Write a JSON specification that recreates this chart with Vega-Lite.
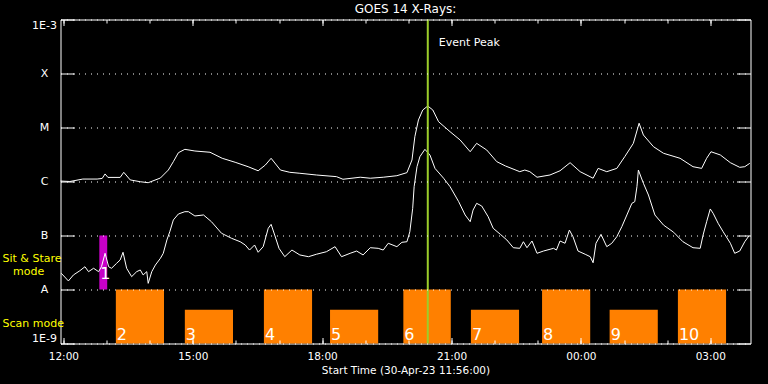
{
  "$schema": "https://vega.github.io/schema/vega-lite/v6.json",
  "autosize": {"type": "none"},
  "padding": {"left": 60.5, "top": 19.5, "right": 17.5, "bottom": 40.5},
  "width": 690,
  "height": 324,
  "background": "black",
  "title": {"text": "GOES 14 X-Rays:", "font": "DejaVu Sans", "fontSize": 12, "fontWeight": "normal", "color": "white", "offset": 3},
  "datasets": {
    "bars": [
      {"n": "2", "start": "2023-04-30T13:13:00", "end": "2023-04-30T14:20:00", "top": 1e-8},
      {"n": "3", "start": "2023-04-30T14:49:00", "end": "2023-04-30T15:56:00", "top": 4.2e-9},
      {"n": "4", "start": "2023-04-30T16:39:00", "end": "2023-04-30T17:46:00", "top": 1e-8},
      {"n": "5", "start": "2023-04-30T18:11:00", "end": "2023-04-30T19:18:00", "top": 4.2e-9},
      {"n": "6", "start": "2023-04-30T19:53:00", "end": "2023-04-30T20:59:00", "top": 1e-8},
      {"n": "7", "start": "2023-04-30T21:27:00", "end": "2023-04-30T22:34:00", "top": 4.2e-9},
      {"n": "8", "start": "2023-04-30T23:06:00", "end": "2023-05-01T00:13:00", "top": 1e-8},
      {"n": "9", "start": "2023-05-01T00:40:00", "end": "2023-05-01T01:47:00", "top": 4.2e-9},
      {"n": "10", "start": "2023-05-01T02:15:00", "end": "2023-05-01T03:22:00", "top": 1e-8}
    ],
    "sitstare": [
      {"n": "1", "start": "2023-04-30T12:50:00", "end": "2023-04-30T13:01:00", "lo": 1e-8, "hi": 1e-7}
    ],
    "peak": [
      {"t": "2023-04-30T20:27:00", "label": "Event Peak"}
    ],
    "xrlong": [
      {"t": "2023-04-30T11:56:00", "flux": 1.02e-6},
      {"t": "2023-04-30T12:09:00", "flux": 1.0e-6},
      {"t": "2023-04-30T12:27:00", "flux": 1.11e-6},
      {"t": "2023-04-30T12:47:00", "flux": 1.11e-6},
      {"t": "2023-04-30T12:54:00", "flux": 1.14e-6},
      {"t": "2023-04-30T12:58:00", "flux": 1.38e-6},
      {"t": "2023-04-30T13:02:00", "flux": 1.19e-6},
      {"t": "2023-04-30T13:19:00", "flux": 1.19e-6},
      {"t": "2023-04-30T13:24:00", "flux": 1.48e-6},
      {"t": "2023-04-30T13:33:00", "flux": 1.07e-6},
      {"t": "2023-04-30T13:47:00", "flux": 9.9e-7},
      {"t": "2023-04-30T13:58:00", "flux": 9.5e-7},
      {"t": "2023-04-30T14:15:00", "flux": 1.16e-6},
      {"t": "2023-04-30T14:26:00", "flux": 1.63e-6},
      {"t": "2023-04-30T14:33:00", "flux": 2.33e-6},
      {"t": "2023-04-30T14:40:00", "flux": 3.41e-6},
      {"t": "2023-04-30T14:49:00", "flux": 3.94e-6},
      {"t": "2023-04-30T15:03:00", "flux": 3.67e-6},
      {"t": "2023-04-30T15:24:00", "flux": 3.48e-6},
      {"t": "2023-04-30T15:41:00", "flux": 2.69e-6},
      {"t": "2023-04-30T15:59:00", "flux": 2.27e-6},
      {"t": "2023-04-30T16:17:00", "flux": 1.88e-6},
      {"t": "2023-04-30T16:31:00", "flux": 1.58e-6},
      {"t": "2023-04-30T16:41:00", "flux": 2.02e-6},
      {"t": "2023-04-30T16:49:00", "flux": 2.69e-6},
      {"t": "2023-04-30T17:02:00", "flux": 1.63e-6},
      {"t": "2023-04-30T17:15:00", "flux": 1.48e-6},
      {"t": "2023-04-30T17:29:00", "flux": 1.42e-6},
      {"t": "2023-04-30T17:52:00", "flux": 1.32e-6},
      {"t": "2023-04-30T18:20:00", "flux": 1.23e-6},
      {"t": "2023-04-30T18:29:00", "flux": 1.10e-6},
      {"t": "2023-04-30T18:53:00", "flux": 1.20e-6},
      {"t": "2023-04-30T19:07:00", "flux": 1.15e-6},
      {"t": "2023-04-30T19:25:00", "flux": 1.20e-6},
      {"t": "2023-04-30T19:44:00", "flux": 1.28e-6},
      {"t": "2023-04-30T19:58:00", "flux": 1.46e-6},
      {"t": "2023-04-30T20:05:00", "flux": 2.50e-6},
      {"t": "2023-04-30T20:09:00", "flux": 6.76e-6},
      {"t": "2023-04-30T20:14:00", "flux": 1.38e-5},
      {"t": "2023-04-30T20:20:00", "flux": 2.11e-5},
      {"t": "2023-04-30T20:27:00", "flux": 2.50e-5},
      {"t": "2023-04-30T20:34:00", "flux": 2.11e-5},
      {"t": "2023-04-30T20:42:00", "flux": 1.28e-5},
      {"t": "2023-04-30T20:58:00", "flux": 8.36e-6},
      {"t": "2023-04-30T21:12:00", "flux": 5.87e-6},
      {"t": "2023-04-30T21:26:00", "flux": 3.56e-6},
      {"t": "2023-04-30T21:35:00", "flux": 5.09e-6},
      {"t": "2023-04-30T21:49:00", "flux": 3.83e-6},
      {"t": "2023-04-30T22:03:00", "flux": 2.33e-6},
      {"t": "2023-04-30T22:15:00", "flux": 1.94e-6},
      {"t": "2023-04-30T22:35:00", "flux": 1.52e-6},
      {"t": "2023-04-30T22:42:00", "flux": 1.63e-6},
      {"t": "2023-04-30T22:49:00", "flux": 1.52e-6},
      {"t": "2023-04-30T22:59:00", "flux": 1.20e-6},
      {"t": "2023-04-30T23:17:00", "flux": 1.32e-6},
      {"t": "2023-04-30T23:31:00", "flux": 1.58e-6},
      {"t": "2023-04-30T23:45:00", "flux": 2.23e-6},
      {"t": "2023-04-30T23:59:00", "flux": 1.52e-6},
      {"t": "2023-05-01T00:17:00", "flux": 1.15e-6},
      {"t": "2023-05-01T00:24:00", "flux": 1.75e-6},
      {"t": "2023-05-01T00:36:00", "flux": 1.52e-6},
      {"t": "2023-05-01T00:50:00", "flux": 1.75e-6},
      {"t": "2023-05-01T01:01:00", "flux": 2.88e-6},
      {"t": "2023-05-01T01:13:00", "flux": 5.09e-6},
      {"t": "2023-05-01T01:21:00", "flux": 1.20e-5},
      {"t": "2023-05-01T01:27:00", "flux": 7.26e-6},
      {"t": "2023-05-01T01:41:00", "flux": 4.41e-6},
      {"t": "2023-05-01T01:55:00", "flux": 3.33e-6},
      {"t": "2023-05-01T02:18:00", "flux": 2.69e-6},
      {"t": "2023-05-01T02:36:00", "flux": 1.88e-6},
      {"t": "2023-05-01T02:48:00", "flux": 1.75e-6},
      {"t": "2023-05-01T02:55:00", "flux": 2.69e-6},
      {"t": "2023-05-01T03:01:00", "flux": 3.56e-6},
      {"t": "2023-05-01T03:14:00", "flux": 3.10e-6},
      {"t": "2023-05-01T03:28:00", "flux": 2.23e-6},
      {"t": "2023-05-01T03:41:00", "flux": 1.83e-6},
      {"t": "2023-05-01T03:48:00", "flux": 1.88e-6},
      {"t": "2023-05-01T03:55:00", "flux": 2.17e-6}
    ],
    "xrshort": [
      {"t": "2023-04-30T11:57:00", "flux": 2.0e-8},
      {"t": "2023-04-30T12:07:00", "flux": 1.44e-8},
      {"t": "2023-04-30T12:14:00", "flux": 1.86e-8},
      {"t": "2023-04-30T12:23:00", "flux": 2.23e-8},
      {"t": "2023-04-30T12:30:00", "flux": 2.64e-8},
      {"t": "2023-04-30T12:35:00", "flux": 2.14e-8},
      {"t": "2023-04-30T12:42:00", "flux": 2.47e-8},
      {"t": "2023-04-30T12:49:00", "flux": 2.14e-8},
      {"t": "2023-04-30T12:53:00", "flux": 2.64e-8},
      {"t": "2023-04-30T12:58:00", "flux": 4.68e-8},
      {"t": "2023-04-30T13:03:00", "flux": 2.64e-8},
      {"t": "2023-04-30T13:07:00", "flux": 2.47e-8},
      {"t": "2023-04-30T13:14:00", "flux": 3.05e-8},
      {"t": "2023-04-30T13:19:00", "flux": 3.52e-8},
      {"t": "2023-04-30T13:23:00", "flux": 4.89e-8},
      {"t": "2023-04-30T13:28:00", "flux": 2.47e-8},
      {"t": "2023-04-30T13:35:00", "flux": 1.73e-8},
      {"t": "2023-04-30T13:42:00", "flux": 2.14e-8},
      {"t": "2023-04-30T13:47:00", "flux": 2.30e-8},
      {"t": "2023-04-30T13:51:00", "flux": 1.86e-8},
      {"t": "2023-04-30T13:56:00", "flux": 2.14e-8},
      {"t": "2023-04-30T13:58:00", "flux": 1.30e-8},
      {"t": "2023-04-30T14:03:00", "flux": 2.14e-8},
      {"t": "2023-04-30T14:08:00", "flux": 2.84e-8},
      {"t": "2023-04-30T14:15:00", "flux": 3.78e-8},
      {"t": "2023-04-30T14:19:00", "flux": 4.68e-8},
      {"t": "2023-04-30T14:24:00", "flux": 8.26e-8},
      {"t": "2023-04-30T14:28:00", "flux": 1.17e-7},
      {"t": "2023-04-30T14:33:00", "flux": 1.94e-7},
      {"t": "2023-04-30T14:40:00", "flux": 2.50e-7},
      {"t": "2023-04-30T14:49:00", "flux": 2.76e-7},
      {"t": "2023-04-30T14:54:00", "flux": 2.76e-7},
      {"t": "2023-04-30T15:03:00", "flux": 2.30e-7},
      {"t": "2023-04-30T15:15:00", "flux": 2.40e-7},
      {"t": "2023-04-30T15:26:00", "flux": 1.80e-7},
      {"t": "2023-04-30T15:40:00", "flux": 1.10e-7},
      {"t": "2023-04-30T15:54:00", "flux": 8.87e-8},
      {"t": "2023-04-30T16:06:00", "flux": 7.67e-8},
      {"t": "2023-04-30T16:13:00", "flux": 6.67e-8},
      {"t": "2023-04-30T16:19:00", "flux": 5.38e-8},
      {"t": "2023-04-30T16:26:00", "flux": 6.67e-8},
      {"t": "2023-04-30T16:31:00", "flux": 4.89e-8},
      {"t": "2023-04-30T16:38:00", "flux": 6.21e-8},
      {"t": "2023-04-30T16:45:00", "flux": 1.36e-7},
      {"t": "2023-04-30T16:49:00", "flux": 1.61e-7},
      {"t": "2023-04-30T16:54:00", "flux": 1.02e-7},
      {"t": "2023-04-30T17:00:00", "flux": 5.79e-8},
      {"t": "2023-04-30T17:08:00", "flux": 4.05e-8},
      {"t": "2023-04-30T17:18:00", "flux": 5.38e-8},
      {"t": "2023-04-30T17:29:00", "flux": 4.36e-8},
      {"t": "2023-04-30T17:41:00", "flux": 4.05e-8},
      {"t": "2023-04-30T17:52:00", "flux": 4.49e-8},
      {"t": "2023-04-30T18:06:00", "flux": 5.01e-8},
      {"t": "2023-04-30T18:18:00", "flux": 6.21e-8},
      {"t": "2023-04-30T18:27:00", "flux": 4.05e-8},
      {"t": "2023-04-30T18:39:00", "flux": 4.68e-8},
      {"t": "2023-04-30T18:48:00", "flux": 5.16e-8},
      {"t": "2023-04-30T18:57:00", "flux": 4.36e-8},
      {"t": "2023-04-30T19:07:00", "flux": 5.94e-8},
      {"t": "2023-04-30T19:18:00", "flux": 5.79e-8},
      {"t": "2023-04-30T19:25:00", "flux": 5.38e-8},
      {"t": "2023-04-30T19:32:00", "flux": 7.18e-8},
      {"t": "2023-04-30T19:44:00", "flux": 6.21e-8},
      {"t": "2023-04-30T19:51:00", "flux": 7.48e-8},
      {"t": "2023-04-30T19:58:00", "flux": 7.67e-8},
      {"t": "2023-04-30T20:02:00", "flux": 1.17e-7},
      {"t": "2023-04-30T20:06:00", "flux": 3.19e-7},
      {"t": "2023-04-30T20:08:00", "flux": 8.02e-7},
      {"t": "2023-04-30T20:12:00", "flux": 1.88e-6},
      {"t": "2023-04-30T20:16:00", "flux": 2.88e-6},
      {"t": "2023-04-30T20:23:00", "flux": 3.94e-6},
      {"t": "2023-04-30T20:30:00", "flux": 3.10e-6},
      {"t": "2023-04-30T20:37:00", "flux": 1.75e-6},
      {"t": "2023-04-30T20:49:00", "flux": 1.15e-6},
      {"t": "2023-04-30T20:58:00", "flux": 8.02e-7},
      {"t": "2023-04-30T21:10:00", "flux": 4.23e-7},
      {"t": "2023-04-30T21:19:00", "flux": 2.40e-7},
      {"t": "2023-04-30T21:26:00", "flux": 1.80e-7},
      {"t": "2023-04-30T21:30:00", "flux": 2.96e-7},
      {"t": "2023-04-30T21:35:00", "flux": 3.94e-7},
      {"t": "2023-04-30T21:42:00", "flux": 3.52e-7},
      {"t": "2023-04-30T21:51:00", "flux": 2.23e-7},
      {"t": "2023-04-30T21:58:00", "flux": 1.36e-7},
      {"t": "2023-04-30T22:08:00", "flux": 1.05e-7},
      {"t": "2023-04-30T22:17:00", "flux": 8.26e-8},
      {"t": "2023-04-30T22:26:00", "flux": 5.94e-8},
      {"t": "2023-04-30T22:35:00", "flux": 5.79e-8},
      {"t": "2023-04-30T22:40:00", "flux": 7.67e-8},
      {"t": "2023-04-30T22:45:00", "flux": 5.94e-8},
      {"t": "2023-04-30T22:52:00", "flux": 7.91e-8},
      {"t": "2023-04-30T22:59:00", "flux": 4.68e-8},
      {"t": "2023-04-30T23:08:00", "flux": 5.16e-8},
      {"t": "2023-04-30T23:22:00", "flux": 5.79e-8},
      {"t": "2023-04-30T23:26:00", "flux": 5.38e-8},
      {"t": "2023-04-30T23:31:00", "flux": 7.91e-8},
      {"t": "2023-04-30T23:38:00", "flux": 7.18e-8},
      {"t": "2023-04-30T23:44:00", "flux": 1.26e-7},
      {"t": "2023-04-30T23:49:00", "flux": 9.51e-8},
      {"t": "2023-04-30T23:56:00", "flux": 5.16e-8},
      {"t": "2023-05-01T00:06:00", "flux": 4.49e-8},
      {"t": "2023-05-01T00:13:00", "flux": 4.05e-8},
      {"t": "2023-05-01T00:17:00", "flux": 3.13e-8},
      {"t": "2023-05-01T00:21:00", "flux": 7.18e-8},
      {"t": "2023-05-01T00:28:00", "flux": 1.05e-7},
      {"t": "2023-05-01T00:36:00", "flux": 6.21e-8},
      {"t": "2023-05-01T00:43:00", "flux": 7.18e-8},
      {"t": "2023-05-01T00:50:00", "flux": 9.51e-8},
      {"t": "2023-05-01T00:57:00", "flux": 1.46e-7},
      {"t": "2023-05-01T01:04:00", "flux": 2.40e-7},
      {"t": "2023-05-01T01:11:00", "flux": 3.94e-7},
      {"t": "2023-05-01T01:15:00", "flux": 4.23e-7},
      {"t": "2023-05-01T01:18:00", "flux": 8.02e-7},
      {"t": "2023-05-01T01:20:00", "flux": 1.63e-6},
      {"t": "2023-05-01T01:27:00", "flux": 9.27e-7},
      {"t": "2023-05-01T01:34:00", "flux": 5.62e-7},
      {"t": "2023-05-01T01:43:00", "flux": 2.40e-7},
      {"t": "2023-05-01T01:55:00", "flux": 1.56e-7},
      {"t": "2023-05-01T02:09:00", "flux": 1.15e-7},
      {"t": "2023-05-01T02:22:00", "flux": 7.67e-8},
      {"t": "2023-05-01T02:36:00", "flux": 5.94e-8},
      {"t": "2023-05-01T02:46:00", "flux": 5.79e-8},
      {"t": "2023-05-01T02:50:00", "flux": 1.02e-7},
      {"t": "2023-05-01T02:55:00", "flux": 1.80e-7},
      {"t": "2023-05-01T03:00:00", "flux": 3.10e-7},
      {"t": "2023-05-01T03:04:00", "flux": 2.58e-7},
      {"t": "2023-05-01T03:11:00", "flux": 1.68e-7},
      {"t": "2023-05-01T03:18:00", "flux": 1.17e-7},
      {"t": "2023-05-01T03:28:00", "flux": 7.18e-8},
      {"t": "2023-05-01T03:34:00", "flux": 4.68e-8},
      {"t": "2023-05-01T03:41:00", "flux": 5.16e-8},
      {"t": "2023-05-01T03:48:00", "flux": 7.67e-8},
      {"t": "2023-05-01T03:54:00", "flux": 9.9e-8}
    ]
  },
  "layer": [
    {
      "data": {"name": "bars"},
      "mark": {"type": "rect", "color": "#ff8000"},
      "encoding": {
        "x": {"field": "start", "type": "temporal",
              "scale": {"domain": [{"year": 2023, "month": 4, "date": 30, "hours": 11, "minutes": 56}, {"year": 2023, "month": 5, "date": 1, "hours": 3, "minutes": 56}], "nice": false},
              "axis": {"orient": "bottom", "title": "Start Time (30-Apr-23 11:56:00)", "titleFontSize": 10.5, "titlePadding": 3, "format": "%H:%M", "tickCount": 6, "ticks": false, "labelPadding": 8, "labelFontSize": 10.5, "labelFlush": false, "labelOverlap": false}},
        "x2": {"field": "end"},
        "y": {"field": "top", "type": "quantitative",
              "scale": {"type": "log", "domain": [1e-9, 1e-3], "nice": false},
              "axis": {"orient": "left", "title": null, "values": [1e-9, 1e-8, 1e-7, 1e-6, 1e-5, 1e-4, 1e-3], "ticks": false, "labelAlign": "center", "labelPadding": 16.5, "labelFontSize": 11, "labelFlush": true, "labelExpr": "datum.value < 0.000000003 ? '1E-9' : datum.value < 0.00000003 ? 'A' : datum.value < 0.0000003 ? 'B' : datum.value < 0.000003 ? 'C' : datum.value < 0.00003 ? 'M' : datum.value < 0.0003 ? 'X' : '1E-3'", "grid": true, "gridColor": "white", "gridDash": [1, 5], "gridWidth": 1, "gridOpacity": 1, "zindex": 1}},
        "y2": {"datum": 1e-9}
      }
    },
    {
      "data": {"name": "sitstare"},
      "mark": {"type": "rect", "color": "#c800c8"},
      "encoding": {
        "x": {"field": "start", "type": "temporal",
              "axis": {"orient": "bottom", "title": null, "labels": false, "ticks": true,
                       "values": [{"year": 2023, "month": 4, "date": 30, "hours": 12}, {"year": 2023, "month": 4, "date": 30, "hours": 15}, {"year": 2023, "month": 4, "date": 30, "hours": 18}, {"year": 2023, "month": 4, "date": 30, "hours": 21}, {"year": 2023, "month": 5, "date": 1, "hours": 0}, {"year": 2023, "month": 5, "date": 1, "hours": 3}],
                       "offset": -6, "tickSize": 6, "tickWidth": 1, "zindex": 1}},
        "x2": {"field": "end"},
        "y": {"field": "hi", "type": "quantitative",
              "axis": {"orient": "left", "title": null, "labels": false, "ticks": true, "values": [1e-9, 1e-8, 1e-7, 1e-6, 1e-5, 1e-4, 1e-3], "offset": -14, "tickSize": 14, "tickWidth": 1, "zindex": 1}},
        "y2": {"field": "lo"}
      }
    },
    {
      "data": {"name": "bars"},
      "mark": {"type": "text", "align": "left", "baseline": "alphabetic", "dx": 1, "dy": -4, "fontSize": 16, "color": "white", "font": "DejaVu Sans"},
      "encoding": {
        "x": {"field": "start", "type": "temporal",
              "axis": {"orient": "bottom", "title": null, "labels": false, "ticks": true,
                       "values": [{"year": 2023, "month": 4, "date": 30, "hours": 12}, {"year": 2023, "month": 4, "date": 30, "hours": 13}, {"year": 2023, "month": 4, "date": 30, "hours": 14}, {"year": 2023, "month": 4, "date": 30, "hours": 15}, {"year": 2023, "month": 4, "date": 30, "hours": 16}, {"year": 2023, "month": 4, "date": 30, "hours": 17}, {"year": 2023, "month": 4, "date": 30, "hours": 18}, {"year": 2023, "month": 4, "date": 30, "hours": 19}, {"year": 2023, "month": 4, "date": 30, "hours": 20}, {"year": 2023, "month": 4, "date": 30, "hours": 21}, {"year": 2023, "month": 4, "date": 30, "hours": 22}, {"year": 2023, "month": 4, "date": 30, "hours": 23}, {"year": 2023, "month": 5, "date": 1, "hours": 0}, {"year": 2023, "month": 5, "date": 1, "hours": 1}, {"year": 2023, "month": 5, "date": 1, "hours": 2}, {"year": 2023, "month": 5, "date": 1, "hours": 3}],
                       "offset": -3.5, "tickSize": 3.5, "tickWidth": 1, "zindex": 1}},
        "y": {"datum": 1e-9, "type": "quantitative", "axis": null},
        "text": {"field": "n"}
      }
    },
    {
      "data": {"name": "xrshort"},
      "mark": {"type": "line", "color": "white", "strokeWidth": 1},
      "encoding": {
        "x": {"field": "t", "type": "temporal",
              "axis": {"orient": "top", "title": null, "labels": false, "ticks": true,
                       "values": [{"year": 2023, "month": 4, "date": 30, "hours": 12}, {"year": 2023, "month": 4, "date": 30, "hours": 15}, {"year": 2023, "month": 4, "date": 30, "hours": 18}, {"year": 2023, "month": 4, "date": 30, "hours": 21}, {"year": 2023, "month": 5, "date": 1, "hours": 0}, {"year": 2023, "month": 5, "date": 1, "hours": 3}],
                       "offset": -6, "tickSize": 6, "tickWidth": 1, "zindex": 1}},
        "y": {"field": "flux", "type": "quantitative",
              "axis": {"orient": "right", "title": null, "labels": false, "ticks": true, "values": [1e-9, 1e-8, 1e-7, 1e-6, 1e-5, 1e-4, 1e-3], "offset": -14, "tickSize": 14, "tickWidth": 1, "zindex": 1}}
      }
    },
    {
      "data": {"name": "xrlong"},
      "mark": {"type": "line", "color": "white", "strokeWidth": 1},
      "encoding": {
        "x": {"field": "t", "type": "temporal",
              "axis": {"orient": "top", "title": null, "labels": false, "ticks": true,
                       "values": [{"year": 2023, "month": 4, "date": 30, "hours": 12}, {"year": 2023, "month": 4, "date": 30, "hours": 13}, {"year": 2023, "month": 4, "date": 30, "hours": 14}, {"year": 2023, "month": 4, "date": 30, "hours": 15}, {"year": 2023, "month": 4, "date": 30, "hours": 16}, {"year": 2023, "month": 4, "date": 30, "hours": 17}, {"year": 2023, "month": 4, "date": 30, "hours": 18}, {"year": 2023, "month": 4, "date": 30, "hours": 19}, {"year": 2023, "month": 4, "date": 30, "hours": 20}, {"year": 2023, "month": 4, "date": 30, "hours": 21}, {"year": 2023, "month": 4, "date": 30, "hours": 22}, {"year": 2023, "month": 4, "date": 30, "hours": 23}, {"year": 2023, "month": 5, "date": 1, "hours": 0}, {"year": 2023, "month": 5, "date": 1, "hours": 1}, {"year": 2023, "month": 5, "date": 1, "hours": 2}, {"year": 2023, "month": 5, "date": 1, "hours": 3}],
                       "offset": -3.5, "tickSize": 3.5, "tickWidth": 1, "zindex": 1}},
        "y": {"field": "flux", "type": "quantitative",
              "axis": {"orient": "left", "title": null, "ticks": false, "values": [3.75e-8, 2.37e-9], "labelExpr": "datum.value > 0.00000001 ? 'Sit & Stare' : 'Scan mode'", "labelAlign": "left", "labelPadding": 58.5, "labelColor": "#ffff00", "labelFontSize": 11, "labelFlush": false, "labelOverlap": false}}
      }
    },
    {
      "data": {"name": "sitstare"},
      "mark": {"type": "text", "align": "left", "baseline": "alphabetic", "dx": 1, "dy": -11, "fontSize": 16, "color": "white", "font": "DejaVu Sans"},
      "encoding": {
        "x": {"field": "start", "type": "temporal", "axis": null},
        "y": {"field": "lo", "type": "quantitative",
              "axis": {"orient": "left", "title": null, "ticks": false, "values": [2.2e-8], "labelExpr": "'mode'", "labelAlign": "left", "labelPadding": 48, "labelColor": "#ffff00", "labelFontSize": 11, "labelFlush": false, "labelOverlap": false}},
        "text": {"field": "n"}
      }
    },
    {
      "data": {"name": "peak"},
      "mark": {"type": "rule", "color": "#9ccd2a", "strokeWidth": 2},
      "encoding": {
        "x": {"field": "t", "type": "temporal", "axis": null}
      }
    },
    {
      "data": {"name": "peak"},
      "mark": {"type": "text", "align": "left", "baseline": "middle", "dx": 11, "fontSize": 11, "color": "white", "font": "DejaVu Sans"},
      "encoding": {
        "x": {"field": "t", "type": "temporal", "axis": null},
        "y": {"datum": 0.00037, "type": "quantitative", "axis": null},
        "text": {"field": "label"}
      }
    }
  ],
  "resolve": {"axis": {"x": "independent", "y": "independent"}},
  "config": {
    "view": {"stroke": "white", "strokeWidth": 1},
    "axis": {"labelFont": "DejaVu Sans", "titleFont": "DejaVu Sans", "labelColor": "white", "titleColor": "white", "tickColor": "white", "domain": false, "grid": false, "titleFontWeight": "normal"}
  }
}
